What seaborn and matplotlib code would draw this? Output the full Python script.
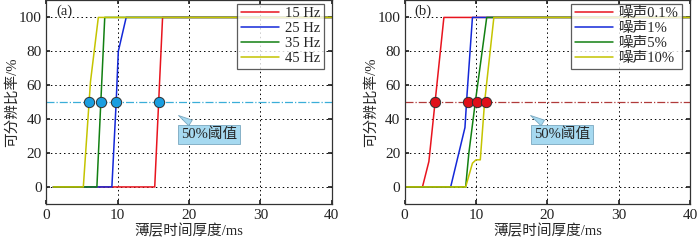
import numpy as np
import pandas as pd
import seaborn as sns
import matplotlib.pyplot as plt

sns.set_theme(style="ticks")
plt.rcParams['font.family'] = ['Liberation Serif', 'Noto Sans CJK SC']
plt.rcParams['font.size'] = 10
plt.rcParams['axes.unicode_minus'] = False

# panel (a): different dominant frequencies
freq_labels = ['15 Hz', '25 Hz', '35 Hz', '45 Hz']
freq_x = [[1, 15.2, 16.3, 40],
          [1, 9.2, 9.8, 10.1, 11.2, 40],
          [1, 7.1, 8.2, 40],
          [1, 5.2, 6.2, 7.3, 40]]
freq_y = [[0, 0, 100, 100],
          [0, 0, 50, 80, 100, 100],
          [0, 0, 100, 100],
          [0, 0, 62, 100, 100]]
freq_cross = [15.8, 9.8, 7.7, 6.0]

# panel (b): different noise levels
noise_labels = ['噪声0.1%', '噪声1%', '噪声5%', '噪声10%']
noise_x = [[0, 2.5, 3.4, 5.5, 40],
           [0, 6.45, 8.45, 8.75, 9.5, 40],
           [0, 8.55, 9.0, 9.9, 11.5, 40],
           [0, 8.55, 9.5, 10.0, 10.6, 11.2, 12.5, 40]]
noise_y = [[0, 0, 15, 100, 100],
           [0, 0, 35, 55, 100, 100],
           [0, 0, 20, 50, 100, 100],
           [0, 0, 14, 16, 16, 50, 100, 100]]
noise_cross = [4.2, 8.85, 10.1, 11.35]

threshold = 50
colors = ['#e8141e', '#1428d8', '#128012', '#c4c400']


def to_frame(labels, xs, ys):
    rows = []
    for lab, xx, yy in zip(labels, xs, ys):
        for i, (a, b) in enumerate(zip(xx, yy)):
            rows.append({'series': lab, 'x': a, 'y': b, 'order': i})
    return pd.DataFrame(rows)


def draw(ax, labels, xs, ys, cross, line_c, dot_c, tag, ann_xy, ann_txt):
    df = to_frame(labels, xs, ys)
    ax.axhline(threshold, color=line_c, lw=0.9, ls='-.', zorder=1)
    sns.lineplot(data=df, x='x', y='y', hue='series', palette=colors,
                 hue_order=labels, sort=False, estimator=None, lw=1.1,
                 ax=ax, zorder=2)
    pts = pd.DataFrame({'x': cross, 'y': [threshold] * len(cross)})
    sns.scatterplot(data=pts, x='x', y='y', s=55, color=dot_c,
                    edgecolor='#303030', linewidth=0.7, ax=ax, zorder=4,
                    legend=False)
    ax.set_xlim(0, 40)
    ax.set_ylim(-10, 110)
    ax.set_xticks([0, 10, 20, 30, 40])
    ax.set_yticks([0, 20, 40, 60, 80, 100])
    ax.grid(True, color='black', ls=(0, (1.5, 3)), lw=0.7)
    ax.tick_params(direction='in', length=3, top=True, right=True,
                   labelsize=11, colors='#222222', pad=3)
    ax.tick_params(axis='x', pad=4)
    for sp in ax.spines.values():
        sp.set_color('#333333')
        sp.set_linewidth(0.9)
    ax.set_xlabel('薄层时间厚度/ms', fontsize=10.5, labelpad=1)
    ax.set_ylabel('可分辨比率/%', fontsize=10.5, labelpad=0)
    ax.text(0.035, 0.98, tag, transform=ax.transAxes, fontsize=10.5,
            va='top', ha='left')
    ax.annotate('50%阈值', xy=ann_xy, xytext=ann_txt, fontsize=10.5,
                ha='center', va='center',
                bbox=dict(boxstyle='square,pad=0.2', fc='#a6d9f0',
                          ec='#7aa8c0', lw=0.6),
                arrowprops=dict(arrowstyle='wedge,tail_width=0.45',
                                fc='#a6d9f0', ec='#7aa8c0', lw=0.6),
                zorder=5)
    leg = ax.legend(loc='upper right', fontsize=10.5, frameon=True,
                    fancybox=False, edgecolor='#333333', borderpad=0.25,
                    handlelength=2.6, handletextpad=0.4, labelspacing=0.12,
                    bbox_to_anchor=(0.972, 0.985), borderaxespad=0)
    leg.get_frame().set_linewidth(0.9)
    leg.set_zorder(6)


fig, axes = plt.subplots(1, 2, figsize=(7, 2.41), dpi=100)
fig.subplots_adjust(left=0.066, right=0.986, bottom=0.154, top=0.998,
                    wspace=0.255)

draw(axes[0], freq_labels, freq_x, freq_y, freq_cross, '#3aaed8',
     '#1a9ee0', '(a)', (18.2, 43), (22.8, 31))
draw(axes[1], noise_labels, noise_x, noise_y, noise_cross, '#b03a3a',
     '#e0101a', '(b)', (17.3, 43), (22.0, 31))

fig.savefig('out.png', dpi=100)
